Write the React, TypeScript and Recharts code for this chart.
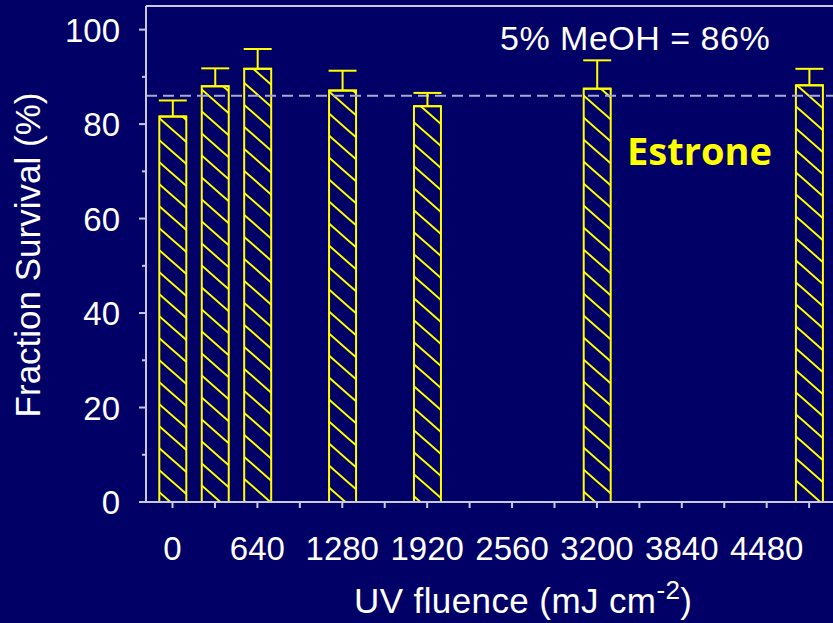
import React from "react";
import {
  Bar,
  ComposedChart,
  ErrorBar,
  ReferenceLine,
  XAxis,
  YAxis
} from "recharts";

// UV fluence (mJ cm^-2) of each exposure
const fluence = [0, 320, 640, 1280, 1920, 3200, 4800];
// mean fraction survival (%)
const survival = [81.6, 88.0, 91.7, 87.1, 83.8, 87.5, 88.2];
// upper error (%)
const errorUp = [3.4, 3.8, 4.2, 4.2, 2.8, 6.0, 3.5];

// solvent control survival
const meohControl = 86;

const xTicks = [0, 320, 640, 960, 1280, 1600, 1920, 2240, 2560, 2880, 3200, 3520, 3840, 4160, 4480, 4800];
const xLabels = [0, 640, 1280, 1920, 2560, 3200, 3840, 4480];
const yTicks = [0, 10, 20, 30, 40, 50, 60, 70, 80, 90, 100];
const yLabels = [0, 20, 40, 60, 80, 100];

const data = fluence.map((f, i) => ({
  fluence: f,
  survival: survival[i],
  errRange: [0, errorUp[i]]
}));

const BG = "#000066";
const YELLOW = "#ffff00";
const AXIS = "#c8c8e6";
const FONT = "'Liberation Sans', Arial, sans-serif";

const XTick = (props: any) => {
  const { x, y, payload } = props;
  const v = payload.value;
  return (
    <g>
      <line x1={x} x2={x} y1={y} y2={y + 6} stroke={AXIS} strokeWidth={2} />
      {xLabels.includes(v) && (
        <text x={x} y={y + 58} textAnchor="middle" fill="#ffffff" fontSize={33} fontFamily={FONT}>
          {v}
        </text>
      )}
    </g>
  );
};

const YTick = (props: any) => {
  const { x, y, payload } = props;
  const v = payload.value;
  const major = yLabels.includes(v);
  return (
    <g>
      <line x1={x - (major ? 7 : 4)} x2={x} y1={y} y2={y} stroke={AXIS} strokeWidth={2} />
      {major && (
        <text x={x - 26} y={y + 12} textAnchor="end" fill="#ffffff" fontSize={33} fontFamily={FONT}>
          {v}
        </text>
      )}
    </g>
  );
};

export default function App() {
  return (
    <div style={{ position: "fixed", left: 0, top: 0, width: 833, height: 623, background: BG, overflow: "hidden" }}>
      <ComposedChart
        width={833}
        height={623}
        data={data}
        margin={{ top: 6, right: 0, bottom: 0, left: 0 }}
        style={{ position: "absolute", left: 0, top: 0 }}
      >
        <defs>
          <pattern id="hatch" patternUnits="userSpaceOnUse" width={25} height={22}>
            <rect width={25} height={22} fill={BG} />
            <path
              d="M-5,-4.4 L30,26.4 M20,-4.4 L30,4.4 M-5,17.6 L5,26.4"
              stroke={YELLOW}
              strokeWidth={2}
            />
          </pattern>
        </defs>
        <XAxis
          dataKey="fluence"
          type="number"
          domain={[-200, 4980]}
          ticks={xTicks}
          interval={0}
          height={121}
          tickSize={0}
          tickMargin={0}
          tickLine={false}
          tick={<XTick />}
          axisLine={{ stroke: AXIS, strokeWidth: 2 }}
          allowDataOverflow
        />
        <YAxis
          type="number"
          domain={[0, 105]}
          ticks={yTicks}
          interval={0}
          width={146}
          tickSize={0}
          tickMargin={0}
          tickLine={false}
          tick={<YTick />}
          axisLine={{ stroke: AXIS, strokeWidth: 2 }}
          allowDataOverflow
        />
        <ReferenceLine y={105} stroke={AXIS} strokeWidth={2} />
        <ReferenceLine y={meohControl} stroke="#a8a8d4" strokeWidth={2} strokeDasharray="11 6" />
        <Bar
          dataKey="survival"
          barSize={27}
          fill="url(#hatch)"
          stroke={YELLOW}
          strokeWidth={2}
          isAnimationActive={false}
        >
          <ErrorBar
            dataKey="errRange"
            direction="y"
            width={14}
            stroke={YELLOW}
            strokeWidth={2}
            isAnimationActive={false}
          />
        </Bar>
      </ComposedChart>
      <svg width={833} height={623} style={{ position: "absolute", left: 0, top: 0, pointerEvents: "none" }}>
        <text x={500} y={50} fill="#ffffff" fontSize={34} fontFamily={FONT} letterSpacing={0.5}>
          5% MeOH = {meohControl}%
        </text>
        <text x={627} y={165} fill={YELLOW} fontSize={38} fontWeight="bold" fontFamily="'Open Sans', sans-serif">
          Estrone
        </text>
        <text
          x={40}
          y={255}
          transform="rotate(-90 40 255)"
          textAnchor="middle"
          fill="#ffffff"
          fontSize={35}
          fontFamily={FONT}
        >
          Fraction Survival (%)
        </text>
        <text x={354} y={613} fill="#ffffff" fontSize={35} fontFamily={FONT} letterSpacing={0.4}>
          UV fluence (mJ cm
          <tspan dy={-14} fontSize={26}>-2</tspan>
          <tspan dy={14}>)</tspan>
        </text>
      </svg>
    </div>
  );
}
